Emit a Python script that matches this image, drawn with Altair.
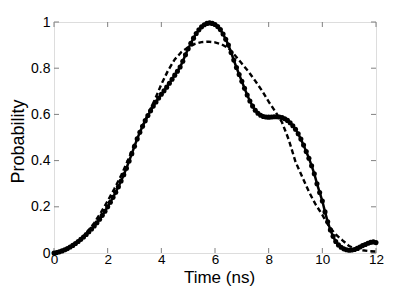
import altair as alt
import pandas as pd

# Solid curve (with markers), sampled every 0.1 ns
t_solid = [round(i * 0.1, 1) for i in range(121)]
p_solid = [
    0.000, 0.002, 0.005, 0.009, 0.014, 0.019, 0.026, 0.033, 0.041, 0.050,
    0.059, 0.069, 0.080, 0.092, 0.104, 0.117, 0.131, 0.146, 0.163, 0.181,
    0.200, 0.220, 0.241, 0.263, 0.287, 0.312, 0.339, 0.367, 0.398, 0.430,
    0.462, 0.494, 0.523, 0.549, 0.573, 0.595, 0.616, 0.636, 0.654, 0.671,
    0.687, 0.702, 0.718, 0.735, 0.752, 0.770, 0.787, 0.805, 0.830, 0.858,
    0.884, 0.908, 0.930, 0.950, 0.966, 0.979, 0.988, 0.994, 0.996, 0.994,
    0.989, 0.980, 0.967, 0.948, 0.925, 0.900, 0.868, 0.835, 0.803, 0.773,
    0.743, 0.713, 0.684, 0.658, 0.636, 0.618, 0.605, 0.596, 0.591, 0.589,
    0.588, 0.589, 0.590, 0.590, 0.589, 0.586, 0.581, 0.574, 0.564, 0.551,
    0.536, 0.516, 0.493, 0.467, 0.439, 0.410, 0.378, 0.343, 0.300, 0.262,
    0.225, 0.178, 0.135, 0.100, 0.072, 0.050, 0.035, 0.025, 0.018, 0.014,
    0.012, 0.013, 0.015, 0.020, 0.026, 0.032, 0.037, 0.042, 0.046, 0.048,
    0.045,
]

# Dashed curve, sampled every 0.25 ns
t_dash = [i * 0.25 for i in range(49)]
p_dash = [
    0.000, 0.004, 0.014, 0.033, 0.060, 0.093, 0.130, 0.176, 0.225, 0.278,
    0.335, 0.400, 0.470, 0.535, 0.600, 0.662, 0.730, 0.790, 0.838, 0.870,
    0.890, 0.905, 0.913, 0.915, 0.912, 0.903, 0.887, 0.855, 0.820, 0.785,
    0.745, 0.703, 0.655, 0.612, 0.565, 0.490, 0.395, 0.330, 0.265, 0.210,
    0.165, 0.115, 0.080, 0.055, 0.030, 0.017, 0.012, 0.008, 0.006,
]

x_ticks = [0, 2, 4, 6, 8, 10, 12]
y_ticks = [0, 0.2, 0.4, 0.6, 0.8, 1.0]

W, H = 322, 231
FONT = "Liberation Sans"
GRAY = "#808080"

solid_df = pd.DataFrame({"t": t_solid, "P": p_solid})
dash_df = pd.DataFrame({"t": t_dash, "P": p_dash})
xt_df = pd.DataFrame({"t": x_ticks})
yt_df = pd.DataFrame({"P": y_ticks})

xs = alt.Scale(domain=[0, 12], nice=False, zero=False)
ys = alt.Scale(domain=[0, 1], nice=False, zero=False)

xaxis = alt.Axis(
    values=x_ticks, ticks=False, domain=False, grid=False,
    labelFont=FONT, labelFontSize=13.5, labelColor="black", labelPadding=-1,
    labelFlush=False, labelOverlap=False,
    title="Time (ns)", titleFont=FONT, titleFontSize=17, titleFontWeight="normal",
    titleColor="black", titleX=165, titleY=29, titleBaseline="alphabetic",
    titleAnchor="middle", titleAlign="center",
)
yaxis = alt.Axis(
    values=y_ticks, ticks=False, domain=False, grid=False, format=".1~f",
    labelFont=FONT, labelFontSize=14, labelColor="black", labelPadding=4,
    labelFlush=False, labelOverlap=False,
    title="Probability", titleFont=FONT, titleFontSize=18, titleFontWeight="normal",
    titleColor="black", titleX=-31, titleY=119, titleBaseline="alphabetic",
    titleAngle=270, titleAlign="center", titleAnchor="middle",
)

X = alt.X("t:Q", scale=xs, axis=xaxis)
Y = alt.Y("P:Q", scale=ys, axis=yaxis)

dashed = alt.Chart(dash_df).mark_line(
    color="black", strokeWidth=2.4, strokeDash=[5, 3]
).encode(x=X, y=Y)

solid_line = alt.Chart(solid_df).mark_line(
    color="black", strokeWidth=2.5
).encode(x=X, y=Y)

solid_pts = alt.Chart(solid_df).mark_circle(
    color="black", size=26, opacity=1
).encode(x=X, y=Y)

tick_len = 5
xt_bottom = alt.Chart(xt_df).mark_rule(color=GRAY, strokeWidth=1).encode(
    x=X, y=alt.value(H), y2=alt.value(H - tick_len))
xt_top = alt.Chart(xt_df).mark_rule(color=GRAY, strokeWidth=1).encode(
    x=X, y=alt.value(0), y2=alt.value(tick_len))
yt_left = alt.Chart(yt_df).mark_rule(color=GRAY, strokeWidth=1).encode(
    y=Y, x=alt.value(0), x2=alt.value(tick_len))
yt_right = alt.Chart(yt_df).mark_rule(color=GRAY, strokeWidth=1).encode(
    y=Y, x=alt.value(W), x2=alt.value(W - tick_len))

chart = alt.layer(
    xt_bottom, xt_top, yt_left, yt_right, dashed, solid_line, solid_pts
).properties(
    width=W, height=H,
    autosize=alt.AutoSizeParams(type="none"),
    padding={"left": 46, "top": 14, "right": 20, "bottom": 34},
).configure_view(
    stroke=GRAY, strokeWidth=1
).configure(background="white")

chart.save("out.html", embed_options={"renderer": "svg", "actions": False})
